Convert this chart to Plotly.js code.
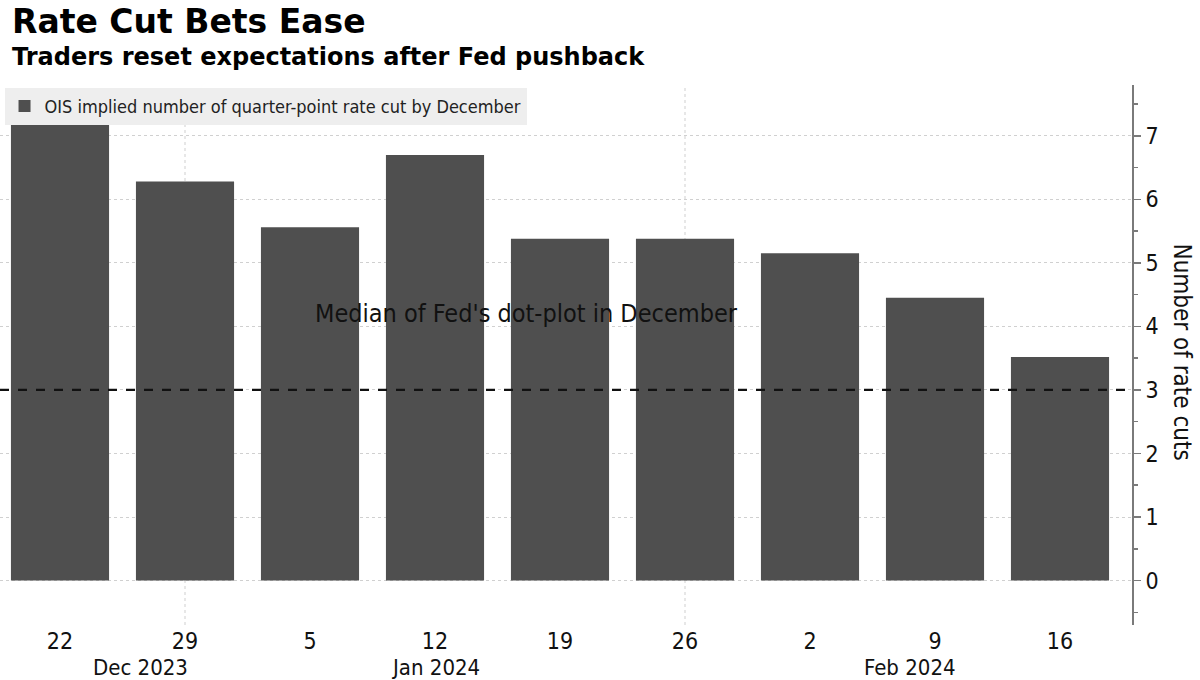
<!DOCTYPE html>
<html>
<head>
<meta charset="utf-8">
<script src="https://cdn.plot.ly/plotly-3.0.1.min.js"></script>
<style>html,body{margin:0;padding:0;background:#fff;}#chart{width:1200px;height:680px;}</style>
</head>
<body>
<div id="chart"></div>
<script>
// Data
var weekIndex = [0, 1, 2, 3, 4, 5, 6, 7, 8];
var dayLabels = ['22', '29', '5', '12', '19', '26', '2', '9', '16'];
var rateCuts = [7.18, 6.28, 5.56, 6.70, 5.38, 5.38, 5.15, 4.45, 3.52];
var monthLabels = ['Dec 2023', 'Jan 2024', 'Feb 2024'];
var monthLabelAt = [0.64, 3, 6.8];
var dotPlotMedian = 3;
var seriesName = 'OIS implied number of quarter-point rate cut by December';

var cond = '"DejaVu Sans Condensed", "DejaVu Sans", sans-serif';
var bold = '"DejaVu Sans", sans-serif';

var trace = {
  type: 'bar',
  x: weekIndex,
  y: rateCuts,
  name: seriesName,
  width: 0.785,
  marker: {color: '#4f4f4f', line: {width: 0}},
  showlegend: true,
  hoverinfo: 'y'
};

var annotations = [
  {
    text: '<b>Traders reset expectations after Fed pushback</b>',
    xref: 'paper', yref: 'paper', x: 0.009, y: 1.052,
    xanchor: 'left', yanchor: 'middle', showarrow: false,
    font: {family: bold, size: 24, color: '#000'}
  },
  {
    text: "Median of Fed's dot-plot in December",
    xref: 'x', yref: 'y', x: 3.73, y: 4.21,
    xanchor: 'center', yanchor: 'middle', showarrow: false,
    font: {family: cond, size: 25, color: '#111'}
  },
  {
    text: 'Number of rate cuts',
    xref: 'paper', yref: 'paper', x: 1.044, y: 0.505,
    xanchor: 'center', yanchor: 'middle', showarrow: false, textangle: 90,
    font: {family: cond, size: 24, color: '#111'}
  }
];
for (var i = 0; i < monthLabels.length; i++) {
  annotations.push({
    text: monthLabels[i],
    xref: 'x', yref: 'paper', x: monthLabelAt[i], y: -0.078,
    xanchor: 'center', yanchor: 'middle', showarrow: false,
    font: {family: cond, size: 22, color: '#111'}
  });
}

var shapes = [
  {type: 'line', xref: 'x', yref: 'paper', x0: 1, x1: 1, y0: 0, y1: 1,
   line: {color: '#cfcfcf', width: 1, dash: 'dot'}, layer: 'below'},
  {type: 'line', xref: 'x', yref: 'paper', x0: 5, x1: 5, y0: 0, y1: 1,
   line: {color: '#cfcfcf', width: 1, dash: 'dot'}, layer: 'below'},
  {type: 'line', xref: 'paper', yref: 'y', x0: 0, x1: 1, y0: dotPlotMedian, y1: dotPlotMedian,
   line: {color: '#111', width: 2.2, dash: 'dash'}, layer: 'above'}
];

var layout = {
  width: 1200, height: 680,
  margin: {l: 0, r: 68, t: 85, b: 55},
  paper_bgcolor: '#fff', plot_bgcolor: '#fff',
  title: {
    text: '<b>Rate Cut Bets Ease</b>',
    x: 0.01, xanchor: 'left', xref: 'container',
    y: 0.968, yanchor: 'middle', yref: 'container',
    font: {family: bold, size: 33, color: '#000'}
  },
  xaxis: {
    range: [-0.48, 8.576],
    tickvals: weekIndex, ticktext: dayLabels,
    showgrid: false, zeroline: false, showline: false, ticks: '',
    tickfont: {family: cond, size: 23, color: '#111'},
    fixedrange: true
  },
  yaxis: {
    side: 'right',
    range: [-0.7, 7.8],
    tickvals: [0, 1, 2, 3, 4, 5, 6, 7],
    showgrid: true, gridcolor: '#d0d0d0', griddash: 'dot', gridwidth: 1,
    zeroline: false,
    showline: true, linecolor: '#7a7a7a', linewidth: 2,
    ticks: 'outside', ticklen: 7, tickcolor: '#7a7a7a', tickwidth: 1.5,
    minor: {dtick: 0.5, ticks: 'outside', ticklen: 4, tickcolor: '#7a7a7a', showgrid: false},
    tickfont: {family: cond, size: 23, color: '#111'},
    fixedrange: true
  },
  legend: {
    x: 0.004, y: 0.995, xanchor: 'left', yanchor: 'top',
    bgcolor: '#eeeeee', borderwidth: 0,
    font: {family: cond, size: 18, color: '#222'},
    itemwidth: 30, tracegroupgap: 0
  },
  bargap: 0.2,
  annotations: annotations,
  shapes: shapes
};

Plotly.newPlot('chart', [trace], layout, {displayModeBar: false, staticPlot: true});
</script>
</body>
</html>
